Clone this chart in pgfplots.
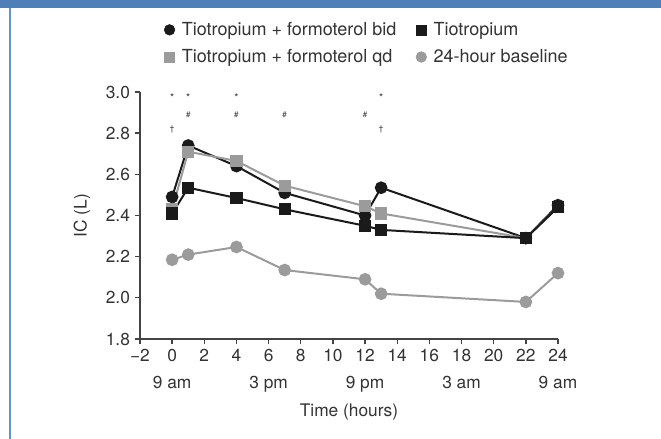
\documentclass[border=0pt]{standalone}
\usepackage{fontspec}
\setmainfont{TeX Gyre Heros}
\usepackage{pgfplots}
\pgfplotsset{compat=1.18}
\definecolor{txt}{HTML}{333333}
\definecolor{axc}{HTML}{444444}
\definecolor{blk}{HTML}{1A1A1A}
\definecolor{gry}{HTML}{9B9B9B}
\definecolor{band}{HTML}{4F7FB6}
\definecolor{bord}{HTML}{6394CC}
\tikzset{star/.style={font=\fontsize{8}{9}\selectfont, text=txt},
  hash/.style={font=\fontsize{6}{7}\selectfont, text=txt},
  clk/.style={anchor=base, font=\fontsize{13}{15}\selectfont, text=txt, yshift=-37.5pt}}
\begin{document}
\begin{tikzpicture}
\path[use as bounding box] (-105pt,-75pt) rectangle (390.75pt,254.25pt);
\fill[band] (-105pt,248.25pt) rectangle (390.75pt,254.25pt);
\fill[bord] (-98.6pt,-75pt) rectangle (-96.4pt,248.25pt);
\begin{axis}[
  scale only axis, width=313.5pt, height=185.25pt,
  xmin=-2, xmax=24, ymin=1.8, ymax=3.0,
  axis x line*=bottom, axis y line*=left,
  axis line style={draw=axc, line width=1.1pt},
  tick align=outside, major tick length=4pt,
  tick style={draw=axc, line width=1pt},
  xtick={-2,0,2,4,6,8,10,12,14,16,18,20,22,24},
  xticklabels={−2,0,2,4,6,8,10,12,14,16,18,20,22,24},
  ytick={1.8,2.0,2.2,2.4,2.6,2.8,3.0},
  yticklabel style={/pgf/number format/.cd,fixed,fixed zerofill,precision=1},
  /pgf/number format/assume math mode=true,
  ticklabel style={font=\fontsize{13}{15}\selectfont, text=txt},
  clip=false,
  legend columns=2,
  legend cell align=left,
  legend style={draw=none, fill=none, at={(0.0455,1.305)}, anchor=north west,
    font=\fontsize{13.5}{16}\selectfont, text=txt, row sep=5pt,
    /tikz/every even column/.append style={column sep=12pt}},
  legend image code/.code={\draw[#1] plot[only marks] coordinates {(0pt,0pt)};
    \path (-4.5pt,0pt) (7pt,0pt);},
]
\addlegendimage{blk, mark=*, mark size=4pt}
\addlegendimage{blk, mark=square*, mark size=3.8pt}
\addlegendimage{gry, mark=square*, mark size=3.8pt}
\addlegendimage{gry, mark=*, mark size=4pt}
\legend{Tiotropium + formoterol bid, Tiotropium, Tiotropium + formoterol qd, 24-hour baseline}

% 24-hour baseline
\addplot[gry, line width=1.5pt, mark=*, mark size=4pt, forget plot] coordinates {
(0,2.185)(1,2.21)(4,2.247)(7,2.135)(12,2.09)(13,2.02)(22,1.98)(24,2.12)};
% Tiotropium + formoterol bid
\addplot[blk, line width=1.5pt, mark=*, mark size=4pt, forget plot] coordinates {
(0,2.49)(1,2.74)(4,2.64)(7,2.51)(12,2.40)(13,2.535)(22,2.29)(24,2.45)};
% Tiotropium + formoterol qd
\addplot[gry, line width=1.5pt, mark=square*, mark size=3.8pt, forget plot] coordinates {
(0,2.43)(1,2.71)(4,2.665)(7,2.545)(12,2.445)(13,2.41)(22,2.29)(24,2.44)};
% Tiotropium
\addplot[blk, line width=1.5pt, mark=square*, mark size=3.8pt, forget plot] coordinates {
(0,2.41)(1,2.535)(4,2.485)(7,2.43)(12,2.35)(13,2.33)(22,2.29)(24,2.44)};

% significance markers
\node[star] at (axis cs:0,2.975) {*};
\node[star] at (axis cs:1,2.975) {*};
\node[star] at (axis cs:4,2.975) {*};
\node[star] at (axis cs:13,2.975) {*};
\node[hash] at (axis cs:1,2.89) {\#};
\node[hash] at (axis cs:4,2.89) {\#};
\node[hash] at (axis cs:7,2.89) {\#};
\node[hash] at (axis cs:12,2.89) {\#};
\node[hash] at (axis cs:0,2.82) {†};
\node[hash] at (axis cs:13,2.82) {†};

% clock times
\node[clk] at (axis cs:0,1.8) {9 am};
\node[clk] at (axis cs:6,1.8) {3 pm};
\node[clk] at (axis cs:12,1.8) {9 pm};
\node[clk] at (axis cs:18,1.8) {3 am};
\node[clk] at (axis cs:24,1.8) {9 am};
\node[anchor=base, font=\fontsize{13}{15}\selectfont, text=txt] at ([yshift=-57.75pt]axis cs:11,1.8) {Time (hours)};
\node[rotate=90, font=\fontsize{13}{15}\selectfont, text=txt] at ([xshift=-43.5pt]axis cs:-2,2.4) {IC (L)};
\end{axis}
\end{tikzpicture}
\end{document}
